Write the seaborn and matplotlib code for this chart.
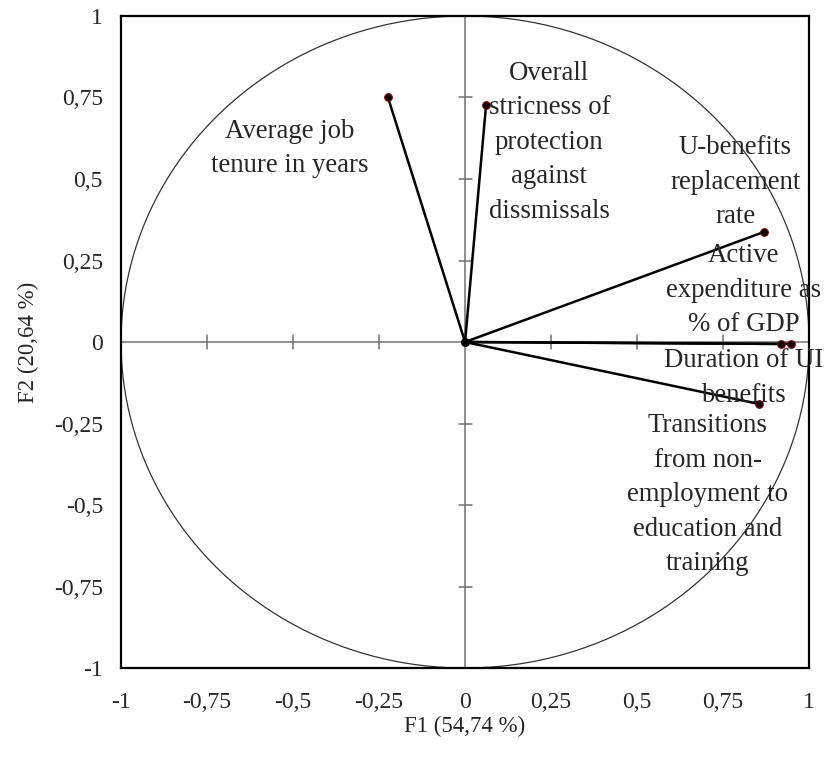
import numpy as np
import pandas as pd
import matplotlib
matplotlib.use("Agg")
import matplotlib.pyplot as plt
import seaborn as sns

# loadings on F1 / F2
variables = ["Average job tenure in years", "Overall stricness of protection against dissmissals",
             "U-benefits replacement rate", "Active expenditure as % of GDP",
             "Duration of UI benefits", "Transitions from non-employment to education and training"]
f1 = [-0.224, 0.061, 0.870, 0.918, 0.948, 0.854]
f2 = [0.750, 0.726, 0.338, -0.006, -0.006, -0.190]

# labels as they are broken on the chart, and where they sit
labels = ["Average job\ntenure in years", "Overall\nstricness of\nprotection\nagainst\ndissmissals",
          "U-benefits\nreplacement\nrate", "Active\nexpenditure as\n% of GDP",
          "Duration of UI\nbenefits", "Transitions\nfrom non-\nemployment to\neducation and\ntraining"]
label_x = [-0.51, 0.245, 0.785, 0.81, 0.81, 0.705]
label_y = [0.594, 0.612, 0.49, 0.158, -0.11, -0.468]

ticks = [-1, -0.75, -0.5, -0.25, 0, 0.25, 0.5, 0.75, 1]
tick_labels = ["-1", "-0,75", "-0,5", "-0,25", "0", "0,25", "0,5", "0,75", "1"]

df = pd.DataFrame({"variable": variables, "F1": f1, "F2": f2})

sns.set_style("white")
plt.rcParams["font.family"] = ["Liberation Serif", "DejaVu Serif"]

fig = plt.figure(figsize=(8.25, 7.58), dpi=100)
ax = fig.add_axes([0.1467, 0.1187, 0.834, 0.8602])

# unit circle
t = np.linspace(0, 2 * np.pi, 400)
ax.plot(np.cos(t), np.sin(t), color="#333333", lw=0.9, zorder=1)

# axes through origin with small ticks
ax.axhline(0, color="#707070", lw=1.1, zorder=1)
ax.axvline(0, color="#707070", lw=1.1, zorder=1)
for v in ticks:
    if v in (-1, 0, 1):
        continue
    ax.plot([v, v], [-0.02, 0.02], color="#707070", lw=1.1, zorder=1)
    ax.plot([-0.019, 0.019], [v, v], color="#707070", lw=1.1, zorder=1)

# vectors
for x, y in zip(df["F1"], df["F2"]):
    ax.plot([0, x], [0, y], color="black", lw=1.8, zorder=2)

sns.scatterplot(data=df, x="F1", y="F2", ax=ax, color="black", edgecolor="#7a0000",
                s=30, linewidth=0.8, zorder=3, legend=False)
ax.scatter([0], [0], color="black", s=30, zorder=3)

for lab, x, y in zip(labels, label_x, label_y):
    ax.text(x, y, lab, ha="center", va="center", multialignment="center",
            fontsize=19.3, linespacing=1.5, zorder=4)

ax.set_xlim(-1, 1)
ax.set_ylim(-1, 1)
ax.set_xticks(ticks)
ax.set_xticklabels(tick_labels)
ax.set_yticks(ticks)
ax.set_yticklabels(tick_labels)
ax.tick_params(axis="both", length=0, labelsize=17)
ax.tick_params(axis="x", pad=17)
ax.tick_params(axis="y", pad=13)
ax.set_xlabel("F1 (54,74 %)", fontsize=16.5, labelpad=2)
ax.set_ylabel("F2 (20,64 %)", fontsize=16.5, labelpad=11)

for s in ax.spines.values():
    s.set_color("black")
    s.set_linewidth(1.6)

fig.savefig("out.png", dpi=100)
